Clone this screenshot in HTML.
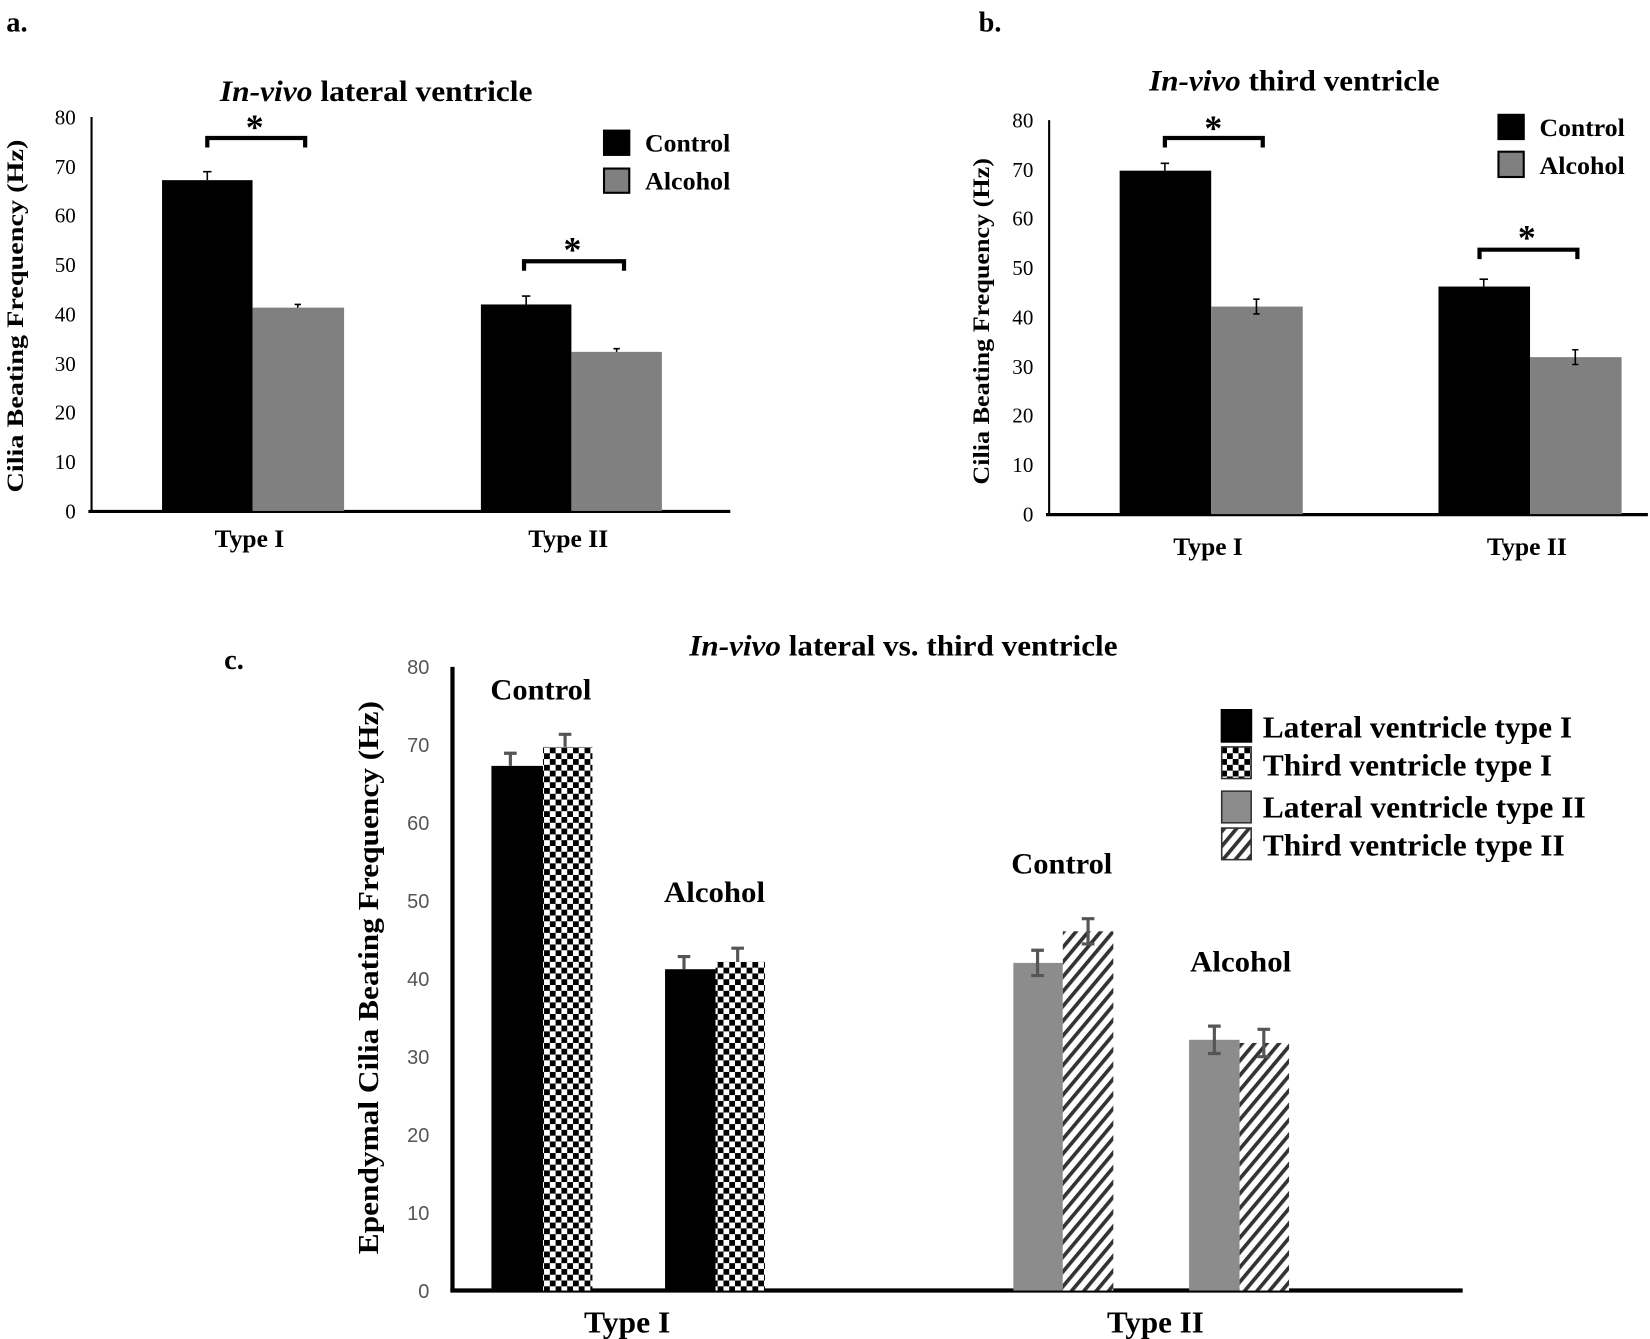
<!DOCTYPE html>
<html><head><meta charset="utf-8"><style>html,body{margin:0;padding:0;background:#fff}svg{display:block}</style></head>
<body>
<svg width="1650" height="1339" viewBox="0 0 1568 1271" preserveAspectRatio="none" xmlns="http://www.w3.org/2000/svg">
<defs>
<pattern id="chk" width="11" height="11" patternUnits="userSpaceOnUse">
<rect width="11" height="11" fill="#fff"/>
<rect x="0" y="0" width="5.5" height="5.5" fill="#000"/>
<rect x="5.5" y="5.5" width="5.5" height="5.5" fill="#000"/>
</pattern>
<pattern id="hat" width="9" height="9" patternUnits="userSpaceOnUse" patternTransform="rotate(40)">
<rect width="9" height="9" fill="#fff"/>
<rect x="0" y="0" width="3.5" height="9" fill="#333"/>
</pattern>
</defs>
<g font-family="Liberation Serif, serif" font-weight="bold" fill="#000" lengthAdjust="spacingAndGlyphs">
<!-- Panel a -->
<text x="6" y="30" font-size="27">a.</text>
<text x="209" y="96" font-size="28" textLength="297" lengthAdjust="spacingAndGlyphs"><tspan font-style="italic">In-vivo</tspan> lateral ventricle</text>
<g font-size="20" font-weight="normal" text-anchor="end">
<text x="72" y="492">0</text><text x="72" y="445">10</text><text x="72" y="398">20</text><text x="72" y="352">30</text><text x="72" y="305">40</text><text x="72" y="258">50</text><text x="72" y="211">60</text><text x="72" y="165">70</text><text x="72" y="118">80</text>
</g>
<line x1="87" y1="111" x2="87" y2="486" stroke="#000" stroke-width="2"/>
<line x1="84" y1="485.5" x2="694" y2="485.5" stroke="#000" stroke-width="3"/>
<rect x="154" y="171" width="86" height="314" fill="#000"/>
<rect x="240" y="292" width="87" height="193" fill="#808080"/>
<rect x="457" y="289" width="86" height="196" fill="#000"/>
<rect x="543" y="334" width="86" height="151" fill="#808080"/>
<g stroke="#000" stroke-width="1.5">
<path d="M197 171V163M193 163H201M283 292V289M280 289H286M500 289V281M496 281H504M586 334V331M583 331H589"/>
</g>
<path d="M197 140V131H290V140" fill="none" stroke="#000" stroke-width="4"/>
<path d="M498 257V248H593V257" fill="none" stroke="#000" stroke-width="4"/>
<text x="242" y="132" font-size="34" text-anchor="middle">*</text>
<text x="544" y="248" font-size="34" text-anchor="middle">*</text>
<rect x="573" y="123" width="26" height="25" fill="#000"/>
<rect x="574" y="160" width="24" height="23" fill="#808080" stroke="#000" stroke-width="2"/>
<text x="613" y="144" font-size="24" textLength="81" lengthAdjust="spacingAndGlyphs">Control</text>
<text x="613" y="180" font-size="24" textLength="81" lengthAdjust="spacingAndGlyphs">Alcohol</text>
<text x="14" y="300" font-size="22" text-anchor="middle" transform="rotate(-90 14 300)" dy="8" textLength="335" lengthAdjust="spacingAndGlyphs">Cilia  Beating Frequency (Hz)</text>
<text x="237" y="519" font-size="24" text-anchor="middle" textLength="66" lengthAdjust="spacingAndGlyphs">Type I</text>
<text x="540" y="519" font-size="24" text-anchor="middle" textLength="76" lengthAdjust="spacingAndGlyphs">Type II</text>

<!-- Panel b -->
<text x="930" y="30" font-size="27">b.</text>
<text x="1092" y="86" font-size="28" textLength="276" lengthAdjust="spacingAndGlyphs"><tspan font-style="italic">In-vivo</tspan> third ventricle</text>
<g font-size="20" font-weight="normal" text-anchor="end">
<text x="982" y="495">0</text><text x="982" y="448">10</text><text x="982" y="401">20</text><text x="982" y="355">30</text><text x="982" y="308">40</text><text x="982" y="261">50</text><text x="982" y="214">60</text><text x="982" y="168">70</text><text x="982" y="121">80</text>
</g>
<line x1="997" y1="114" x2="997" y2="489" stroke="#000" stroke-width="2"/>
<line x1="994" y1="488.5" x2="1566" y2="488.5" stroke="#000" stroke-width="3"/>
<rect x="1064" y="162" width="87" height="326" fill="#000"/>
<rect x="1151" y="291" width="87" height="197" fill="#808080"/>
<rect x="1367" y="272" width="87" height="216" fill="#000"/>
<rect x="1454" y="339" width="87" height="149" fill="#808080"/>
<g stroke="#000" stroke-width="1.5">
<path d="M1107 162V155M1103 155H1111M1194 291V284M1191 284H1197M1194 291V298M1191 298H1197M1410 272V265M1406 265H1414M1497 339V332M1494 332H1500M1497 339V346M1494 346H1500"/>
</g>
<path d="M1107 140V131H1200V140" fill="none" stroke="#000" stroke-width="4"/>
<path d="M1406 246V237H1499V246" fill="none" stroke="#000" stroke-width="4"/>
<text x="1153" y="133" font-size="34" text-anchor="middle">*</text>
<text x="1451" y="237" font-size="34" text-anchor="middle">*</text>
<rect x="1423" y="108" width="26" height="25" fill="#000"/>
<rect x="1424" y="144" width="24" height="24" fill="#808080" stroke="#000" stroke-width="2"/>
<text x="1463" y="129" font-size="24" textLength="81" lengthAdjust="spacingAndGlyphs">Control</text>
<text x="1463" y="165" font-size="24" textLength="81" lengthAdjust="spacingAndGlyphs">Alcohol</text>
<text x="932" y="305" font-size="22" text-anchor="middle" transform="rotate(-90 932 305)" dy="8" textLength="310" lengthAdjust="spacingAndGlyphs">Cilia  Beating Frequency (Hz)</text>
<text x="1148" y="527" font-size="24" text-anchor="middle" textLength="66" lengthAdjust="spacingAndGlyphs">Type I</text>
<text x="1451" y="527" font-size="24" text-anchor="middle" textLength="76" lengthAdjust="spacingAndGlyphs">Type II</text>

<!-- Panel c -->
<text x="213" y="635" font-size="27">c.</text>
<text x="655" y="622" font-size="28" textLength="407" lengthAdjust="spacingAndGlyphs"><tspan font-style="italic">In-vivo</tspan> lateral vs. third ventricle</text>
<g font-size="19" font-weight="normal" fill="#555" font-family="Liberation Sans, sans-serif" text-anchor="end">
<text x="408" y="1232">0</text><text x="408" y="1158">10</text><text x="408" y="1084">20</text><text x="408" y="1010">30</text><text x="408" y="936">40</text><text x="408" y="862">50</text><text x="408" y="788">60</text><text x="408" y="714">70</text><text x="408" y="640">80</text>
</g>
<line x1="430" y1="633" x2="430" y2="1226" stroke="#000" stroke-width="4"/>
<line x1="428" y1="1225" x2="1390" y2="1225" stroke="#000" stroke-width="4"/>
<rect x="467" y="727" width="49" height="498" fill="#000"/>
<rect x="516" y="709" width="47" height="516" fill="url(#chk)"/>
<rect x="632" y="920" width="48" height="305" fill="#000"/>
<rect x="680" y="913" width="47" height="312" fill="url(#chk)"/>
<rect x="963" y="914" width="47" height="311" fill="#8c8c8c"/>
<rect x="1010" y="884" width="48" height="341" fill="url(#hat)"/>
<rect x="1130" y="987" width="48" height="238" fill="#8c8c8c"/>
<rect x="1178" y="990" width="47" height="235" fill="url(#hat)"/>
<g stroke="#555" stroke-width="3">
<path d="M485 727V715M479 715H491M537 709V697M531 697H543M650 920V908M644 908H656M701 913V900M695 900H707M986 914V902M980 902H992M986 914V926M980 926H992M1034 884V872M1028 872H1040M1034 884V896M1028 896H1040M1154 987V974M1148 974H1160M1154 987V1000M1148 1000H1160M1201 990V977M1195 977H1207M1201 990V1003M1195 1003H1207"/>
</g>
<g font-size="28" text-anchor="middle">
<text x="514" y="664" textLength="96" lengthAdjust="spacingAndGlyphs">Control</text>
<text x="679" y="856" textLength="96" lengthAdjust="spacingAndGlyphs">Alcohol</text>
<text x="1009" y="829" textLength="96" lengthAdjust="spacingAndGlyphs">Control</text>
<text x="1179" y="922" textLength="96" lengthAdjust="spacingAndGlyphs">Alcohol</text>
</g>
<rect x="1160" y="673" width="30" height="32" fill="#000"/>
<rect x="1161" y="709" width="28" height="30" fill="url(#chk)" stroke="#333" stroke-width="1.5"/>
<rect x="1161" y="751" width="28" height="30" fill="#8c8c8c" stroke="#333" stroke-width="1.5"/>
<rect x="1161" y="786" width="28" height="30" fill="url(#hat)" stroke="#333" stroke-width="1.5"/>
<g font-size="29">
<text x="1200" y="700" textLength="294" lengthAdjust="spacingAndGlyphs">Lateral ventricle type I</text>
<text x="1200" y="736" textLength="275" lengthAdjust="spacingAndGlyphs">Third ventricle type I</text>
<text x="1200" y="776" textLength="307" lengthAdjust="spacingAndGlyphs">Lateral ventricle type II</text>
<text x="1200" y="812" textLength="287" lengthAdjust="spacingAndGlyphs">Third ventricle type II</text>
</g>
<text x="350" y="928" font-size="27" text-anchor="middle" transform="rotate(-90 350 928)" dy="9" textLength="525" lengthAdjust="spacingAndGlyphs">Ependymal Cilia  Beating Frequency (Hz)</text>
<text x="596" y="1265" font-size="29" text-anchor="middle" textLength="82" lengthAdjust="spacingAndGlyphs">Type I</text>
<text x="1098" y="1265" font-size="29" text-anchor="middle" textLength="92" lengthAdjust="spacingAndGlyphs">Type II</text>
</g>
</svg>
</body></html>
